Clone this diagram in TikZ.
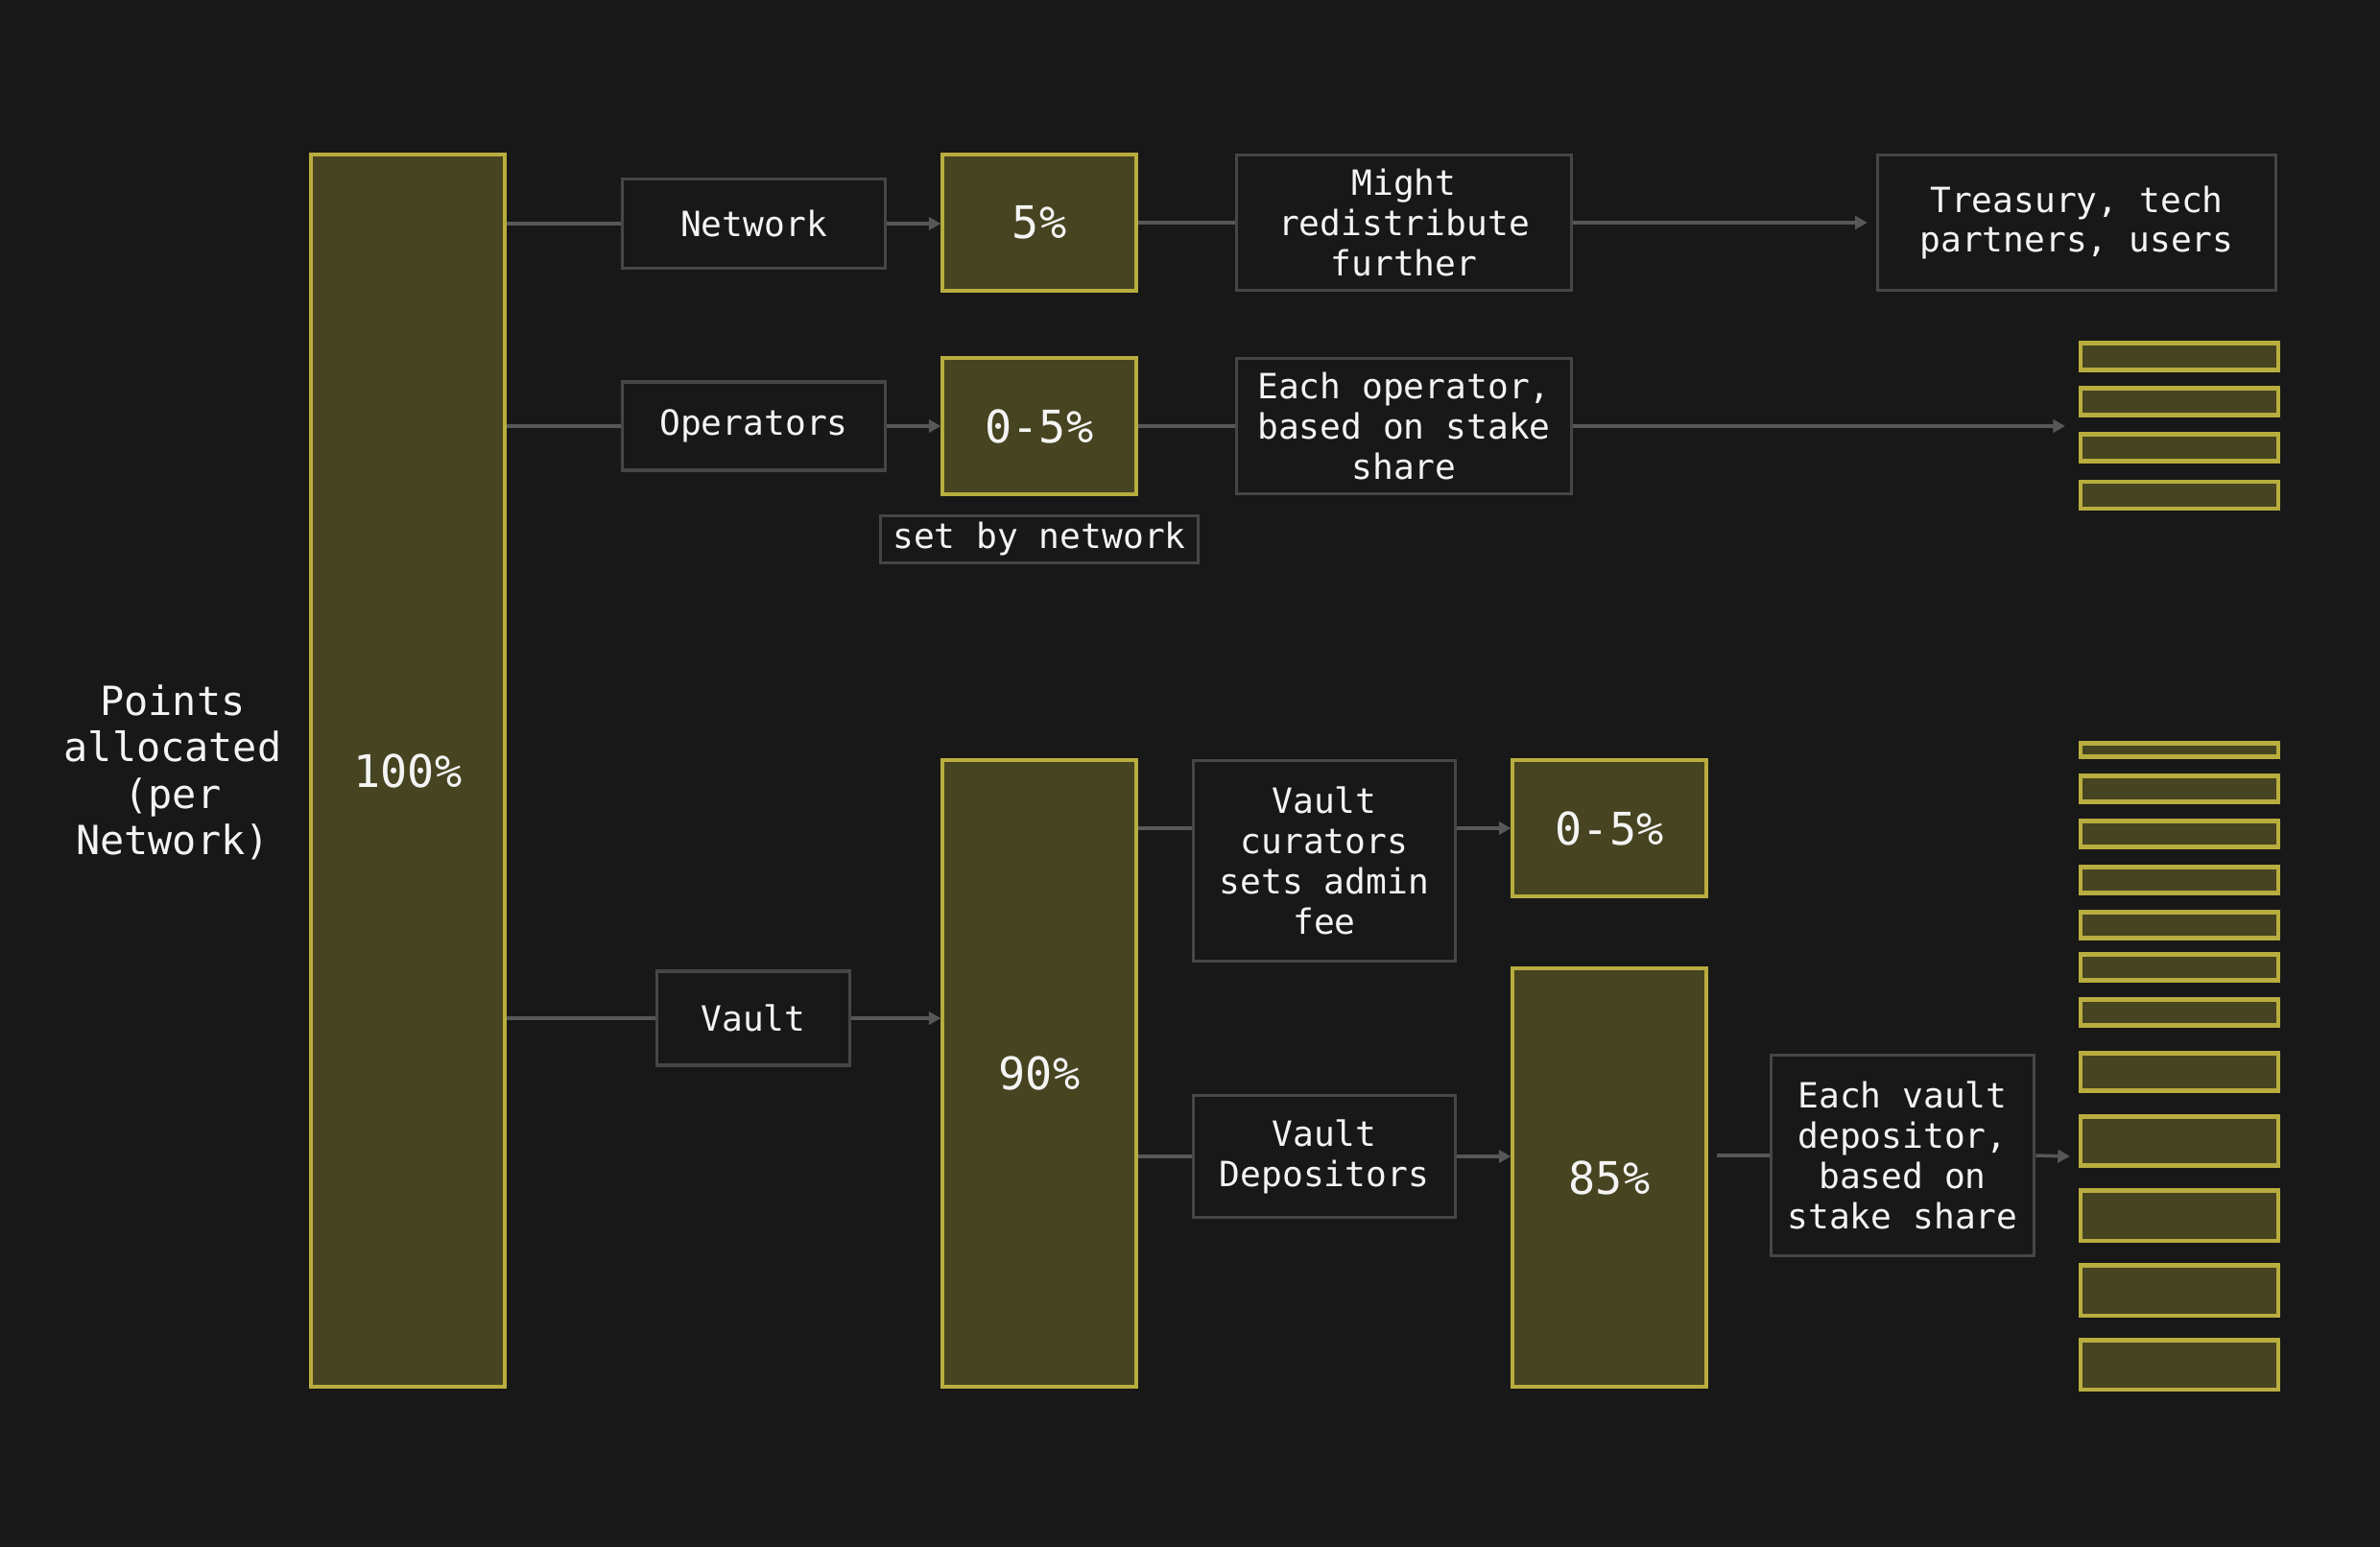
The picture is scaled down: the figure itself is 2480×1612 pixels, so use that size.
\documentclass[tikz,border=0pt]{standalone}
\usepackage{fontspec}
\setmainfont{DejaVu Sans Mono}
\usetikzlibrary{arrows.meta}
\definecolor{bg}{HTML}{181818}
\definecolor{gold}{HTML}{B8AD3E}
\definecolor{goldfill}{HTML}{474421}
\definecolor{graybd}{HTML}{464646}
\definecolor{linegray}{HTML}{575757}
\definecolor{txt}{HTML}{F4F4F4}
\begin{document}
\begin{tikzpicture}[x=0.01cm,y=-0.01cm,
  lbl/.style={draw=graybd, line width=1pt, fill=bg, text=txt, align=center, inner sep=0pt, font=\fontsize{10.3}{11.9}\selectfont},
  pct/.style={draw=gold, line width=1.15pt, fill=goldfill, text=txt, inner sep=0pt, font=\fontsize{13.3}{15}\selectfont},
  bar/.style={draw=gold, line width=1.15pt, fill=goldfill, inner sep=0pt, minimum width=2.05cm},
  link/.style={draw=linegray, line width=1pt},
  arr/.style={link, -{Triangle[length=3.6pt,width=3.8pt]}}]
\useasboundingbox (0,0) rectangle (2480,1612);
\fill[bg] (0,0) rectangle (2480,1612);

% left label and 100%
\node[text=txt, align=center, font=\fontsize{11.9}{13.8}\selectfont] (pts) at (180,805) {Points\\allocated\\(per\\Network)};
\node[pct, minimum width=2.01cm, minimum height=12.83cm] (big) at (425,803) {100\%};

% network row
\node[lbl, minimum width=2.74cm, minimum height=0.93cm] (net) at (785.5,233) {Network};
\node[pct, minimum width=2.01cm, minimum height=1.41cm] (p5) at (1083,232) {5\%};
\node[lbl, minimum width=3.49cm, minimum height=1.41cm] (might) at (1463,232) {Might\\redistribute\\further};
\node[lbl, minimum width=4.15cm, minimum height=1.41cm] (treas) at (2164,232) {Treasury, tech\\partners, users};

% operators row
\node[lbl, minimum width=2.74cm, minimum height=0.92cm] (ops) at (785.5,444) {Operators};
\node[pct, minimum width=2.01cm, minimum height=1.41cm] (p05) at (1083,444) {0-5\%};
\node[lbl, minimum width=3.49cm, minimum height=1.41cm] (eachop) at (1463,444) {Each operator,\\based on stake\\share};
\node[lbl, minimum width=3.31cm, minimum height=0.49cm] (setby) at (1083,562) {set by network};
\coordinate (opsend) at (2152,444);

% operator bars
\node[bar, minimum height=0.28cm] (ob1) at (2271,371.5) {};
\node[bar, minimum height=0.28cm] (ob2) at (2271,418.5) {};
\node[bar, minimum height=0.28cm] (ob3) at (2271,466.5) {};
\node[bar, minimum height=0.28cm] (ob4) at (2271,516) {};

% vault branch
\node[lbl, minimum width=2.01cm, minimum height=0.98cm] (vault) at (785,1061) {Vault};
\node[pct, minimum width=2.01cm, minimum height=6.52cm] (p90) at (1083,1118.5) {90\%};
\node[lbl, minimum width=2.73cm, minimum height=2.09cm] (cur) at (1380,897) {Vault\\curators\\sets admin\\fee};
\node[pct, minimum width=2.01cm, minimum height=1.41cm] (p05b) at (1677,863) {0-5\%};
\node[lbl, minimum width=2.73cm, minimum height=1.27cm] (deps) at (1380,1205) {Vault\\Depositors};
\node[pct, minimum width=2.01cm, minimum height=4.35cm] (p85) at (1677,1227) {85\%};
\node[lbl, minimum width=2.74cm, minimum height=2.09cm] (eachvd) at (1982.5,1204) {Each vault\\depositor,\\based on\\stake share};
\coordinate (vdend) at (2157,1205);

% vault bars
\node[bar, minimum height=0.14cm] (vb1) at (2271,781.5) {};
\node[bar, minimum height=0.27cm] (vb2) at (2271,822) {};
\node[bar, minimum height=0.27cm] (vb3) at (2271,869) {};
\node[bar, minimum height=0.27cm] (vb4) at (2271,917) {};
\node[bar, minimum height=0.27cm] (vb5) at (2271,964) {};
\node[bar, minimum height=0.27cm] (vb6) at (2271,1008) {};
\node[bar, minimum height=0.27cm] (vb7) at (2271,1055) {};
\node[bar, minimum height=0.39cm] (vb8) at (2271,1117) {};
\node[bar, minimum height=0.51cm] (vb9) at (2271,1189) {};
\node[bar, minimum height=0.52cm] (vb10) at (2271,1266.5) {};
\node[bar, minimum height=0.52cm] (vb11) at (2271,1344.5) {};
\node[bar, minimum height=0.51cm] (vb12) at (2271,1422) {};

% connectors
\draw[link] (big.east |- net.west) -- (net.west);
\draw[arr] (net.east) -- (p5.west |- net.east);
\draw[link] (p5.east) -- (might.west);
\draw[arr, shorten >=2.5pt] (might.east) -- (treas.west);

\draw[link] (big.east |- ops.west) -- (ops.west);
\draw[arr] (ops.east) -- (p05.west |- ops.east);
\draw[link] (p05.east) -- (eachop.west);
\draw[arr] (eachop.east) -- (opsend);

\draw[link] (big.east |- vault.west) -- (vault.west);
\draw[arr] (vault.east) -- (p90.west |- vault.east);
\draw[link] (p90.east |- p05b.west) -- (cur.west |- p05b.west);
\draw[arr] (cur.east |- p05b.west) -- (p05b.west);
\draw[link] (p90.east |- deps.west) -- (deps.west);
\draw[arr] (deps.east) -- (p85.west |- deps.east);
\draw[link, shorten <=2.8pt] (p85.east |- eachvd.west) -- (eachvd.west);
\draw[arr] (eachvd.east) -- (vdend);
\end{tikzpicture}
\end{document}
